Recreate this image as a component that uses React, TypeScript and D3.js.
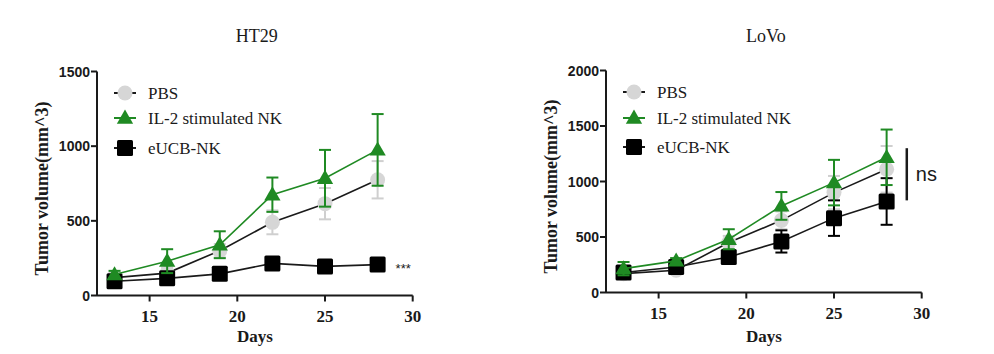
import React, { useEffect } from 'react';
import * as d3 from 'd3';

// shared x values (days after inoculation)
const days = [13, 16, 19, 22, 25, 28];
const xTicks = [15, 20, 25, 30];

// HT29
const ht29PbsMean = [120, 150, 300, 490, 615, 775];
const ht29PbsSem = [30, 35, 45, 80, 105, 125];
const ht29Il2Mean = [140, 230, 340, 675, 785, 975];
const ht29Il2Sem = [25, 80, 90, 115, 190, 240];
const ht29EucbMean = [95, 115, 145, 215, 195, 207];
const ht29EucbSem = [20, 20, 25, 40, 20, 20];
const ht29YTicks = [0, 500, 1000, 1500];

// LoVo
const lovoPbsMean = [170, 200, 450, 650, 900, 1110];
const lovoPbsSem = [40, 30, 60, 80, 150, 210];
const lovoIl2Mean = [215, 285, 480, 780, 990, 1218];
const lovoIl2Sem = [60, 25, 90, 125, 205, 250];
const lovoEucbMean = [180, 230, 320, 460, 670, 820];
const lovoEucbSem = [30, 25, 40, 100, 160, 210];
const lovoYTicks = [0, 500, 1000, 1500, 2000];

const legendNames = ['PBS', 'IL-2 stimulated NK', 'eUCB-NK'];
const legendKinds = ['circle', 'triangle', 'square'];

const SERIF = '"Liberation Serif", "Times New Roman", serif';
const SANS = '"Liberation Sans", Arial, sans-serif';
const GREEN = '#1f8a23';
const GREY = '#d6d6d6';
const GREY_BAR = '#cfcfcf';
const INK = '#1a1a1a';

type Series = { mean: number[]; sem: number[]; kind: string };

const Marker = ({ kind, x, y }: { kind: string; x: number; y: number }) => {
  if (kind === 'circle') return <circle cx={x} cy={y} r={7.5} fill={GREY} />;
  if (kind === 'triangle') {
    const p = d3.symbol(d3.symbolTriangle, 115)() as string;
    return <path d={p} transform={`translate(${x},${y + 1})`} fill={GREEN} />;
  }
  return <rect x={x - 8} y={y - 8} width={16} height={16} rx={1.5} fill="#000" />;
};

const lineColor = (kind: string) => (kind === 'triangle' ? GREEN : INK);
const barColor = (kind: string) => (kind === 'circle' ? GREY_BAR : kind === 'triangle' ? GREEN : '#000');

const Panel = (props: {
  left: number; top: number; bottom: number; width: number;
  yMax: number; yTicks: number[]; title: string; series: Series[];
  legendY: number[]; note: React.ReactNode;
}) => {
  const { left, top, bottom, width, yMax, yTicks, title, series } = props;
  const x = d3.scaleLinear().domain([12, 30]).range([left, left + width]);
  const y = d3.scaleLinear().domain([0, yMax]).range([bottom, top]);
  const line = d3.line<number>().x((_, i) => x(days[i])).y(d => y(d));
  const cx = left + width / 2;

  return (
    <g>
      <text x={cx + 2} y={42} textAnchor="middle" fontFamily={SERIF} fontSize={18} fill={INK}>{title}</text>

      {/* axes */}
      <line x1={left} x2={left} y1={top} y2={bottom} stroke={INK} strokeWidth={2} />
      <line x1={left} x2={left + width} y1={bottom} y2={bottom} stroke={INK} strokeWidth={2} />
      {yTicks.map(t => (
        <g key={t}>
          <line x1={left - 6} x2={left} y1={y(t)} y2={y(t)} stroke={INK} strokeWidth={2} />
          <text x={left - 7} y={y(t)} dy="0.36em" textAnchor="end" fontFamily={SANS}
            fontWeight="bold" fontSize={14} fill={INK}>{t}</text>
        </g>
      ))}
      {xTicks.map(t => (
        <g key={t}>
          <line x1={x(t)} x2={x(t)} y1={bottom} y2={bottom + 6} stroke={INK} strokeWidth={2} />
          <text x={x(t)} y={bottom + 26} textAnchor="middle" fontFamily={SERIF}
            fontWeight="bold" fontSize={17} fill={INK}>{t}</text>
        </g>
      ))}
      <text transform={`translate(${left - 49},${(top + bottom) / 2 + 5}) rotate(-90)`} textAnchor="middle"
        fontFamily={SERIF} fontWeight="bold" fontSize={18} fill={INK}>Tumor volume(mm^3)</text>
      <text x={cx} y={342} textAnchor="middle" fontFamily={SERIF} fontWeight="bold"
        fontSize={17} fill={INK}>Days</text>

      {/* series: PBS first, then eUCB-NK, IL-2 on top */}
      {series.map((s, si) => (
        <g key={si}>
          {s.mean.map((m, i) => {
            const xi = x(days[i]);
            const y0 = y(m - s.sem[i]);
            const y1 = y(m + s.sem[i]);
            return (
              <g key={i} stroke={barColor(s.kind)} strokeWidth={2}>
                <line x1={xi} x2={xi} y1={y0} y2={y1} />
                <line x1={xi - 6} x2={xi + 6} y1={y0} y2={y0} />
                <line x1={xi - 6} x2={xi + 6} y1={y1} y2={y1} />
              </g>
            );
          })}
          <path d={line(s.mean) as string} fill="none" stroke={lineColor(s.kind)} strokeWidth={1.6} />
          {s.mean.map((m, i) => <Marker key={i} kind={s.kind} x={x(days[i])} y={y(m)} />)}
        </g>
      ))}

      {/* legend */}
      {legendKinds.map((k, li) => (
        <g key={k}>
          <line x1={left + 17} x2={left + 39} y1={props.legendY[li]} y2={props.legendY[li]}
            stroke={lineColor(k)} strokeWidth={2} />
          <Marker kind={k} x={left + 28} y={props.legendY[li]} />
          <text x={left + 51} y={props.legendY[li]} dy="0.35em" fontFamily={SERIF}
            fontSize={17} fill={INK}>{legendNames[li]}</text>
        </g>
      ))}
      {props.note}
    </g>
  );
};

export default function App() {
  useEffect(() => {
    document.body.style.margin = '0';
  }, []);

  const ht29Series: Series[] = [
    { mean: ht29PbsMean, sem: ht29PbsSem, kind: 'circle' },
    { mean: ht29EucbMean, sem: ht29EucbSem, kind: 'square' },
    { mean: ht29Il2Mean, sem: ht29Il2Sem, kind: 'triangle' },
  ];
  const lovoSeries: Series[] = [
    { mean: lovoPbsMean, sem: lovoPbsSem, kind: 'circle' },
    { mean: lovoEucbMean, sem: lovoEucbSem, kind: 'square' },
    { mean: lovoIl2Mean, sem: lovoIl2Sem, kind: 'triangle' },
  ];

  const lx = d3.scaleLinear().domain([12, 30]).range([97, 412.7]);
  const ly = d3.scaleLinear().domain([0, 1500]).range([295.5, 71.5]);
  const rx = d3.scaleLinear().domain([12, 30]).range([606, 921.7]);
  const ry = d3.scaleLinear().domain([0, 2000]).range([292.5, 70.5]);

  const ht29Note = (
    <text x={lx(28) + 18} y={ly(ht29EucbMean[5]) + 8} fontFamily={SANS} fontSize={13}
      fill={INK}>***</text>
  );
  const lovoNote = (
    <g>
      <line x1={rx(29.15)} x2={rx(29.15)} y1={ry(1300)} y2={ry(830)} stroke={INK} strokeWidth={2.5} />
      <text x={rx(29.15) + 9} y={ry(1065)} dy="0.35em" fontFamily={SANS} fontSize={20}
        fill={INK}>ns</text>
    </g>
  );

  return (
    <svg width={994} height={354} style={{ display: 'block', background: '#fff' }}>
      <Panel left={97} top={71.5} bottom={295.5} width={315.7} yMax={1500} yTicks={ht29YTicks}
        title="HT29" series={ht29Series} legendY={[93, 118, 148]} note={ht29Note} />
      <Panel left={606} top={70.5} bottom={292.5} width={315.7} yMax={2000} yTicks={lovoYTicks}
        title="LoVo" series={lovoSeries} legendY={[92, 118, 147]} note={lovoNote} />
    </svg>
  );
}
